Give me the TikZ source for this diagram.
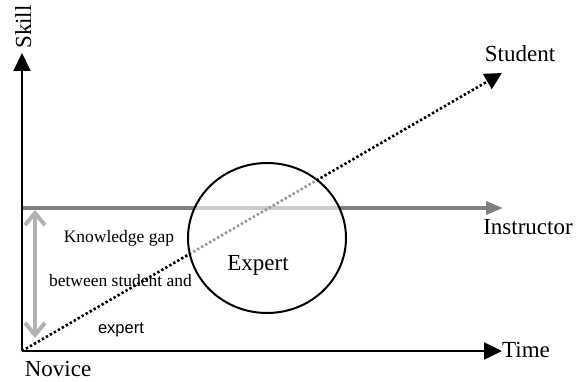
\documentclass[tikz,border=0pt]{standalone}
\usepackage{fontspec}
\setmainfont{Liberation Serif}
\newfontfamily\arialfont{Liberation Sans}
\usetikzlibrary{arrows.meta,shapes.geometric}
\begin{document}
\begin{tikzpicture}[x=1pt,y=-1pt,
  axis/.style={line width=2pt,-{Triangle[length=18pt,width=17pt]}},
  instr/.style={line width=4pt,color=black!50,-{Triangle[length=17pt,width=13pt]}},
  gap/.style={line width=4pt,color=black!30,{Straight Barb[length=12pt,width=20pt]}-{Straight Barb[length=12pt,width=20pt]}},
  stud/.style={line width=2.6pt,dash pattern=on 2.4pt off 2.2pt,-{Triangle[length=17pt,width=17pt]}},
  big/.style={font=\fontsize{23}{26}\selectfont,inner sep=0pt,anchor=base},
  small/.style={font=\fontsize{17.5}{20}\selectfont,inner sep=0pt,anchor=base},
  expertcircle/.style={draw=black,line width=2pt,fill=white,fill opacity=0.6}]
\useasboundingbox[fill=white] (0,0) rectangle (584,382);
% coordinates
\coordinate (O) at (22,351);
\coordinate (ytip) at (22,53);
\coordinate (xtip) at (502,351);
\coordinate (i0) at (22,208);
\coordinate (itip) at (503,208);
\coordinate (g1) at (35,210);
\coordinate (g2) at (35,338);
\coordinate (s0) at (22,351);
\coordinate (stip) at (502,73);
% lines
\draw[instr] (i0) -- (itip);
\draw[stud] (s0) -- (stip);
\draw[gap] (g1) -- (g2);
\node[expertcircle,ellipse,minimum width=158pt,minimum height=150pt,inner sep=0pt] (circ) at (267,238) {};
\draw[axis] (O) -- (ytip);
\draw[axis] (O) -- (xtip);
% labels
\node[big,rotate=90] (skill) at (31,27) {Skill};
\node[big] (student) at (520,62) {Student};
\node[big] (instructor) at (528,235) {Instructor};
\node[big,anchor=base west] (time) at (502,357) {Time};
\node[big] (novice) at (58,376) {Novice};
\node[big] (expertlbl) at (258,271) {Expert};
\node[small] (kg) at (119,243) {Knowledge gap};
\node[small] (bsa) at (120.5,287) {between student and};
\node[small,font=\arialfont\fontsize{16.5}{19}\selectfont] (exp) at (121,333) {expert};
\end{tikzpicture}
\end{document}
